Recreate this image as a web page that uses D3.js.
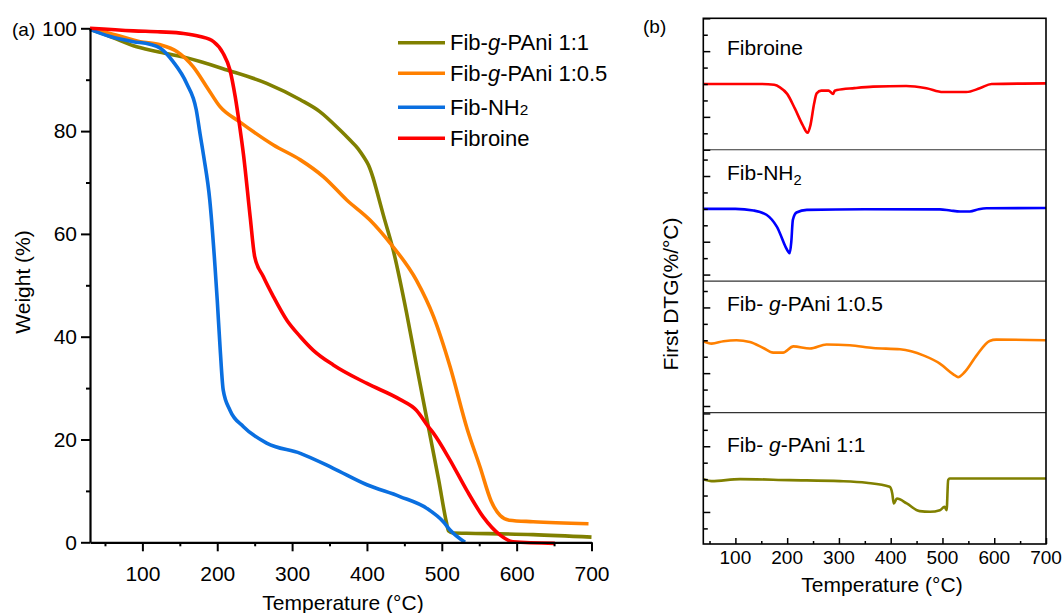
<!DOCTYPE html>
<html>
<head>
<meta charset="utf-8">
<script src="https://cdn.jsdelivr.net/npm/d3@7"></script>
<style>
  body { margin: 0; background: #fff; }
  svg text { font-family: "Liberation Sans", Arial, sans-serif; fill: #000; }
</style>
</head>
<body>
<svg id="chart" width="1064" height="613"></svg>
<script>
// ---------- (a) TGA : temperature (°C) vs weight (%) ----------
var tgaPani11 = [[30,99.8],[57,98.4],[88,96.6],[119,95.5],[155,94.4],[213,91.9],[266,89.3],[311,86.1],[337,83.8],
  [364,80.2],[377,78.3],[388,76.6],[396,74.9],[402,73.4],[408,71],[414,67.9],[422,63.6],[435,56.9],[453,44.6],[466.5,34.2],
  [482,22.5],[496,12],[506,4],[509,2.2],[515,1.8],[533,1.75],[622,1.5],[700,1.0]];
var tgaPani105 = [[30,99.8],[57,99],[97,97.4],[124,96.8],[146,95.5],[168,92.5],[186,88.6],[204,84.7],[230,81.8],
  [275,77.3],[311,74.4],[342,71.1],[373,66.6],[404,62.7],[431,58.2],[466,51],[489,43.9],[511,34.2],
  [534,22],[551,14.7],[566,8],[578,5.2],[590,4.3],[622,4.0],[696,3.6]];
var tgaNH2 = [[30,99.8],[57,98.4],[88,97.4],[110,96.9],[124,96.1],[141,93.5],[159,89.3],[172,84.1],[177,79.5],
  [182,75],[190,66.6],[197,53.7],[200,47.1],[204,37.4],[208,29.6],[217,25.7],[235,22.5],[266,19.3],[311,17.3],
  [355,14.4],[400,11.2],[444,8.9],[480,6.6],[502,4.0],[511,2.4],[531,0]];
var tgaFibroine = [[30,100],[88,99.5],[124,99.3],[155,99],[177,98.4],[195,97.4],[208,95.1],[217,91.9],[224,86.7],
  [230,80.9],[235,75.5],[244,63.3],[250,55.6],[261.5,51.7],[275,47.8],[293,43.2],[311,40],[328,37.4],
  [355,34.5],[400,30.9],[444,27.8],[466,25.7],[482,22.5],[489,21.2],[511,16],[533,10.2],[555,5.0],[578,1.4],
  [595,0.1],[651,-0.2]];

var tgaNames = ["Fib-g-PAni 1:1", "Fib-g-PAni 1:0.5", "Fib-NH2", "Fibroine"];
var tgaColors = ["#808000", "#ff8000", "#0a6fe0", "#ff0000"];
var tgaSeries = [tgaPani11, tgaPani105, tgaNH2, tgaFibroine];
var weightTicks = [0, 20, 40, 60, 80, 100];
var tempTicks = [100, 200, 300, 400, 500, 600, 700];

// ---------- (b) DTG : temperature vs first derivative (arbitrary, offset per panel) ----------
var dtgFibroine = [[38,0],[150,0],[175,-0.05],[186,-0.2],[200,-0.6],[215,-1.5],[230,-2.5],[239.5,-2.97],[245,-2.5],
  [252,-1.2],[257,-0.57],[266,-0.4],[280,-0.4],[286,-0.55],[289,-0.6],[292,-0.4],[296,-0.37],[330,-0.25],[366,-0.16],
  [430,-0.12],[469,-0.26],[501,-0.49],[546,-0.49],[572,-0.26],[595,0],[700,0.04]];
var dtgNH2 = [[38,0],[100,0],[135,-0.1],[160,-0.36],[180,-1.08],[202,-2.6],[205,-2.7],[208,-2.0],[211,-0.67],
  [218,-0.22],[238,-0.06],[350,-0.02],[495,-0.03],[515,-0.1],[534,-0.16],[553,-0.16],[570,-0.02],[585,0.04],[700,0.05]];
var dtgPani105 = [[38,-0.05],[54,-0.2],[77,-0.06],[102,0],[128,-0.1],[154,-0.47],[173,-0.75],[192,-0.75],[212,-0.37],
  [244,-0.5],[276,-0.26],[321,-0.3],[366,-0.47],[418,-0.55],[463,-0.92],[495,-1.42],[521,-2.07],[530,-2.24],
  [543,-1.93],[566,-0.92],[591,-0.04],[604,0.04],[700,0]];
var dtgPani11 = [[38,0],[54,-0.12],[109,0],[205,-0.06],[302,-0.12],[353,-0.22],[398,-0.47],[403,-0.87],[406,-1.48],
  [412,-1.18],[431,-1.48],[456,-1.95],[476,-1.99],[495,-1.89],[504,-1.69],[508,-1.89],[511,-0.06],[514,0.04],[700,0.04]];

var dtgNames = ["Fibroine", "Fib-NH2", "Fib- g-PAni 1:0.5", "Fib- g-PAni 1:1"];
var dtgColors = ["#ff0000", "#0000ff", "#ff8000", "#808000"];
var dtgSeries = [dtgFibroine, dtgNH2, dtgPani105, dtgPani11];
var dtgDomains = [[-4.0, 4.0], [-4.4, 3.6], [-4.4, 3.6], [-3.95, 4.05]];
var dtgLabelDy = [36.7, 30.3, 29.7, 39.4];

var svg = d3.select("#chart");

// helper: label with italic g and subscript 2
function richLabel(sel, name, subShift) {
  var parts = name.split("g-");
  if (parts.length > 1) {
    sel.append("tspan").text(parts[0]);
    sel.append("tspan").attr("font-style", "italic").text("g");
    sel.append("tspan").text("-" + parts[1]);
  } else if (name.slice(-1) == "2") {
    sel.append("tspan").text(name.slice(0, -1));
    sel.append("tspan").attr("font-size", "0.7em").attr("dy", subShift).text("2");
  } else {
    sel.text(name);
  }
}

// ================= panel (a) =================
var x = d3.scaleLinear().domain([30, 700]).range([90, 591.5]);
var y = d3.scaleLinear().domain([0, 100]).range([542.3, 28.3]);

var ga = svg.append("g");

var line = d3.line()
  .x(function(d) { return x(d[0]); })
  .y(function(d) { return y(d[1]); })
  .curve(d3.curveMonotoneX);

tgaSeries.forEach(function(s, i) {
  ga.append("path")
    .datum(s)
    .attr("fill", "none")
    .attr("stroke", tgaColors[i])
    .attr("stroke-width", 3.6)
    .attr("stroke-linejoin", "round")
    .attr("d", line);
});

// axes
ga.append("g")
  .attr("transform", "translate(90,0)")
  .call(d3.axisLeft(y).tickValues(weightTicks).tickSize(9).tickSizeOuter(0).tickPadding(4));
ga.append("g")
  .attr("transform", "translate(90,0)")
  .call(d3.axisLeft(y).tickValues([10, 30, 50, 70, 90]).tickSize(4).tickFormat(""))
  .select(".domain").remove();

ga.append("g")
  .attr("transform", "translate(0,542.3)")
  .call(d3.axisBottom(x).tickValues(tempTicks).tickSize(9).tickSizeOuter(0).tickPadding(15));
ga.append("g")
  .attr("transform", "translate(0,542.3)")
  .call(d3.axisBottom(x).tickValues([50, 150, 250, 350, 450, 550, 650]).tickSize(4).tickFormat(""))
  .select(".domain").remove();

ga.selectAll(".domain").attr("stroke-width", 2.2);
ga.selectAll(".tick line").attr("stroke-width", 2);
ga.selectAll(".tick text").attr("font-size", 21);

ga.append("text").attr("transform", "translate(30,282) rotate(-90)")
  .attr("text-anchor", "middle").attr("font-size", 21).text("Weight (%)");
ga.append("text").attr("x", 343).attr("y", 610)
  .attr("text-anchor", "middle").attr("font-size", 21).text("Temperature (°C)");
ga.append("text").attr("x", 12).attr("y", 36).attr("font-size", 19).text("(a)");

// legend
var legendY = [42.7, 73.3, 107.3, 138.3];
tgaNames.forEach(function(n, i) {
  ga.append("line")
    .attr("x1", 398).attr("x2", 445)
    .attr("y1", legendY[i]).attr("y2", legendY[i])
    .attr("stroke", tgaColors[i]).attr("stroke-width", 3.6);
  var t = ga.append("text").attr("x", 450).attr("y", legendY[i] + 7.5).attr("font-size", 22);
  richLabel(t, n, 0);
});

// ================= panel (b) =================
var gb = svg.append("g");
var xb = d3.scaleLinear().domain([38, 700]).range([703.3, 1046]);
var panelTop = 18.3, panelBottom = 544;
var panelH = (panelBottom - panelTop) / 4;

dtgSeries.forEach(function(s, i) {
  var top = panelTop + i * panelH;
  var yb = d3.scaleLinear().domain(dtgDomains[i]).range([top + panelH, top]);
  var lineB = d3.line()
    .x(function(d) { return xb(d[0]); })
    .y(function(d) { return yb(d[1]); })
    .curve(d3.curveMonotoneX);

  gb.append("path")
    .datum(s)
    .attr("fill", "none")
    .attr("stroke", dtgColors[i])
    .attr("stroke-width", 2.6)
    .attr("stroke-linejoin", "round")
    .attr("d", lineB);

  var lo = Math.ceil(dtgDomains[i][0]), hi = Math.floor(dtgDomains[i][1]);
  var minor = d3.range(lo, hi + 1).filter(function(v) { return v % 2 != 0 || v == 0; });
  var major = d3.range(lo, hi + 1).filter(function(v) { return v != 0 && v % 2 == 0; });
  gb.append("g").attr("transform", "translate(703.3,0)")
    .call(d3.axisRight(yb).tickValues(minor).tickSize(4.5).tickFormat(""))
    .select(".domain").remove();
  gb.append("g").attr("transform", "translate(703.3,0)")
    .call(d3.axisRight(yb).tickValues(major).tickSize(7).tickFormat(""))
    .select(".domain").remove();

  if (i > 0) {
    gb.append("line").attr("x1", 703.3).attr("x2", 1046)
      .attr("y1", top).attr("y2", top)
      .attr("stroke", "#333").attr("stroke-width", 1.2);
  }

  var t = gb.append("text").attr("x", 727).attr("y", top + dtgLabelDy[i]).attr("font-size", 21);
  richLabel(t, dtgNames[i], 5);
});

gb.append("rect").attr("x", 703.3).attr("y", panelTop)
  .attr("width", 1046 - 703.3).attr("height", panelBottom - panelTop)
  .attr("fill", "none").attr("stroke", "#000").attr("stroke-width", 1.6);

gb.append("g").attr("transform", "translate(0," + panelBottom + ")")
  .call(d3.axisTop(xb).tickValues([50, 150, 250, 350, 450, 550, 650]).tickSize(3).tickFormat(""))
  .select(".domain").remove();
gb.append("g").attr("transform", "translate(0," + panelBottom + ")")
  .call(d3.axisTop(xb).tickValues(tempTicks).tickSize(6).tickFormat(""))
  .select(".domain").remove();
gb.selectAll(".tick line").attr("stroke-width", 1.5);

tempTicks.forEach(function(v) {
  gb.append("text").attr("x", xb(v)).attr("y", 564)
    .attr("text-anchor", "middle").attr("font-size", 19).text(v);
});

gb.append("text").attr("x", 882).attr("y", 592)
  .attr("text-anchor", "middle").attr("font-size", 21).text("Temperature (°C)");
gb.append("text").attr("transform", "translate(678,294) rotate(-90)")
  .attr("text-anchor", "middle").attr("font-size", 21).text("First DTG(%/°C)");
gb.append("text").attr("x", 643).attr("y", 33).attr("font-size", 19).text("(b)");
</script>
</body>
</html>
